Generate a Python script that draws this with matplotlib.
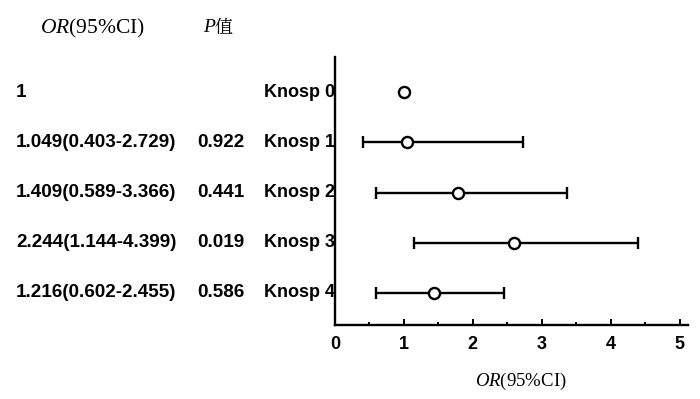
import matplotlib
matplotlib.use("Agg")
import matplotlib.pyplot as plt
import matplotlib.transforms as mtransforms
from matplotlib.ticker import MultipleLocator

# data
groups = ["Knosp 0", "Knosp 1", "Knosp 2", "Knosp 3", "Knosp 4"]
or_text = ["1", "1.049(0.403-2.729)", "1.409(0.589-3.366)", "2.244(1.144-4.399)", "1.216(0.602-2.455)"]
p_text = ["", "0.922", "0.441", "0.019", "0.586"]
point = [1.0, 1.05, 1.79, 2.60, 1.43]
ci_low = [None, 0.403, 0.589, 1.144, 0.602]
ci_high = [None, 2.729, 3.366, 4.399, 2.455]

plt.rcParams["mathtext.fontset"] = "custom"
plt.rcParams["mathtext.rm"] = "Liberation Serif"
plt.rcParams["mathtext.it"] = "Liberation Serif:italic"

sans = "Liberation Sans"
serif = "Liberation Serif"

fig = plt.figure(figsize=(7, 3.99), dpi=100)
ax = fig.add_axes([335 / 700, 1 - 325 / 399, 353 / 700, 268 / 399])

rows = list(range(len(groups)))

# error bars for rows that have a CI
for i in rows:
  if ci_low[i] is None:
    continue
  xerr = [[point[i] - ci_low[i]], [ci_high[i] - point[i]]]
  ax.errorbar(point[i], i, xerr=xerr, fmt="none", ecolor="black",
              elinewidth=1.7, capsize=4, capthick=1.7, zorder=2)

ax.plot(point, rows, "o", mfc="white", mec="black", ms=8, mew=1.7,
        linestyle="none", zorder=3)

ax.set_xlim(0, 353 / 68.9)
ax.set_ylim(4.64, -0.7)
ax.xaxis.set_major_locator(MultipleLocator(1))
ax.xaxis.set_minor_locator(MultipleLocator(0.5))
ax.set_yticks([])
ax.spines["top"].set_visible(False)
ax.spines["right"].set_visible(False)
ax.spines["left"].set_linewidth(1.7)
ax.spines["bottom"].set_linewidth(1.7)
ax.tick_params(axis="x", which="major", direction="in", length=4.5, width=1.4, pad=8)
ax.tick_params(axis="x", which="minor", direction="in", length=2.5, width=1.4)
for lbl in ax.get_xticklabels():
  lbl.set_fontfamily(sans)
  lbl.set_fontweight("bold")
  lbl.set_fontsize(13)

# left-hand table, rows aligned on the data y
trans = mtransforms.blended_transform_factory(fig.transFigure, ax.transData)
for i in rows:
  ax.text(16 / 700, i, or_text[i], transform=trans, ha="left", va="center",
          fontsize=13.6, fontweight="bold", family=sans)
  ax.text(197 / 700, i, p_text[i], transform=trans, ha="left", va="center",
          fontsize=13.6, fontweight="bold", family=sans)
  ax.text(264 / 700, i, groups[i], transform=trans, ha="left", va="center",
          fontsize=13, fontweight="bold", family=sans)

# headers
fig.text(40 / 700, 1 - 28 / 399, r"$OR$(95%CI)", fontsize=15.5, family=serif,
         ha="left", va="center")
fig.text(203 / 700, 1 - 28 / 399, "P", fontsize=14, family=serif, style="italic",
         ha="left", va="center")
fig.text(215 / 700, 1 - 28 / 399, "值", fontsize=13, family=["Noto Serif CJK SC", "Noto Sans CJK SC"],
         ha="left", va="center")
fig.text(521 / 700, 1 - 381 / 399, r"$OR$(95%CI)", fontsize=13.5, family=serif,
         ha="center", va="center")

plt.savefig("out.png", dpi=100)
